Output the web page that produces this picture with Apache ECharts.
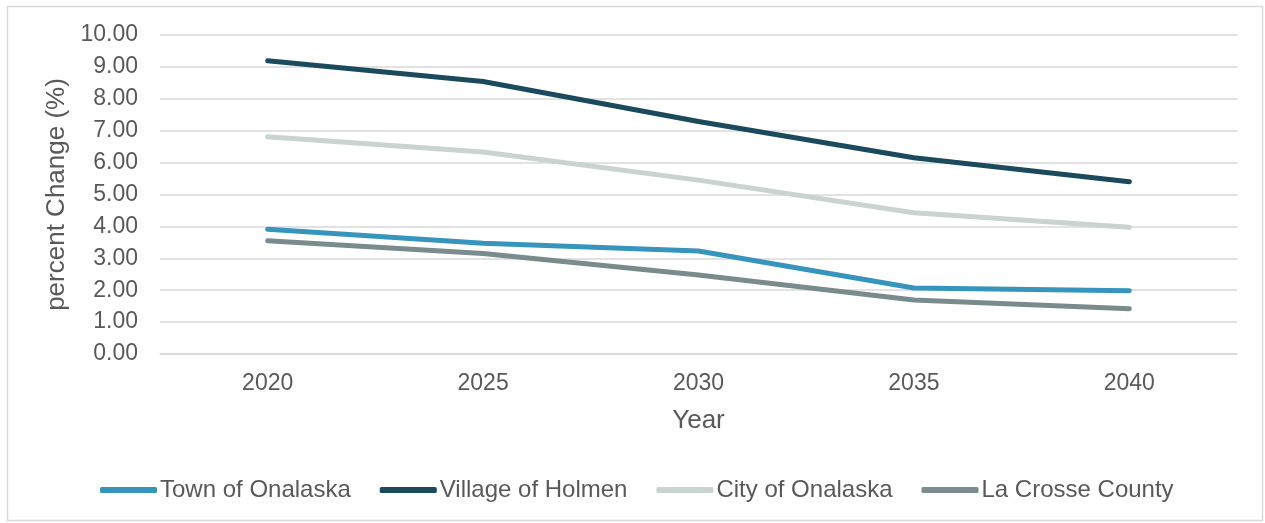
<!DOCTYPE html>
<html>
<head>
<meta charset="utf-8">
<script src="https://cdn.jsdelivr.net/npm/echarts@6/dist/echarts.min.js"></script>
<style>
    html, body {margin: 0; padding: 0; background: #fff;}
    #chart {width: 1265px; height: 523px;}
</style>
</head>
<body>
<div id="chart"></div>
<script>
const years = ['2020', '2025', '2030', '2035', '2040'];
const townOfOnalaska = [3.91, 3.47, 3.23, 2.07, 1.98];
const villageOfHolmen = [9.19, 8.54, 7.29, 6.15, 5.40];
const cityOfOnalaska = [6.81, 6.33, 5.45, 4.43, 3.97];
const laCrosseCounty = [3.55, 3.15, 2.48, 1.69, 1.42];

const textColor = '#595959';
const font = 'Liberation Sans, Arial, sans-serif';

const seriesDefs = [
    {name: 'Town of Onalaska', data: townOfOnalaska, color: '#3795bd'},
    {name: 'Village of Holmen', data: villageOfHolmen, color: '#1b4a5d'},
    {name: 'City of Onalaska', data: cityOfOnalaska, color: '#c9d3d1'},
    {name: 'La Crosse County', data: laCrosseCounty, color: '#798b8d'},
];

const chart = echarts.init(document.getElementById('chart'), null, {renderer: 'canvas'});

chart.setOption({
    animation: false,
    textStyle: {fontFamily: font, color: textColor},
    graphic: [{
        type: 'rect',
        shape: {x: 7.5, y: 6.5, width: 1255, height: 514},
        style: {fill: 'none', stroke: '#d9d9d9', lineWidth: 1.5},
        silent: true,
    }],
    grid: {left: 160, right: 28, top: 35, bottom: 169},
    legend: {
        bottom: 16,
        left: 95,
        itemWidth: 57,
        itemHeight: 6,
        itemGap: 29,
        icon: 'roundRect',
        textStyle: {fontSize: 24, color: textColor, fontFamily: font, padding: [0, 0, 0, -2]},
        data: seriesDefs.map(s => s.name),
    },
    xAxis: {
        type: 'category',
        data: years,
        boundaryGap: true,
        name: 'Year',
        nameLocation: 'middle',
        nameGap: 54,
        nameTextStyle: {fontSize: 26, color: textColor},
        axisLine: {show: true, lineStyle: {color: '#d9d9d9', width: 1.5}},
        axisTick: {show: false},
        axisLabel: {fontSize: 23, color: textColor, margin: 18},
    },
    yAxis: {
        type: 'value',
        min: 0,
        max: 10,
        interval: 1,
        name: 'percent Change (%)',
        nameLocation: 'middle',
        nameGap: 88,
        nameTextStyle: {fontSize: 26, color: textColor},
        axisLine: {show: false},
        axisTick: {show: false},
        axisLabel: {
            fontSize: 23,
            color: textColor,
            margin: 22,
            formatter: v => v.toFixed(2),
        },
        splitLine: {lineStyle: {color: '#d9d9d9', width: 1.5}},
    },
    series: seriesDefs.map(s => ({
        type: 'line',
        name: s.name,
        data: s.data,
        showSymbol: false,
        symbol: 'none',
        color: s.color,
        lineStyle: {width: 5, color: s.color, cap: 'round', join: 'round'},
        itemStyle: {color: s.color},
    })),
});
</script>
</body>
</html>
